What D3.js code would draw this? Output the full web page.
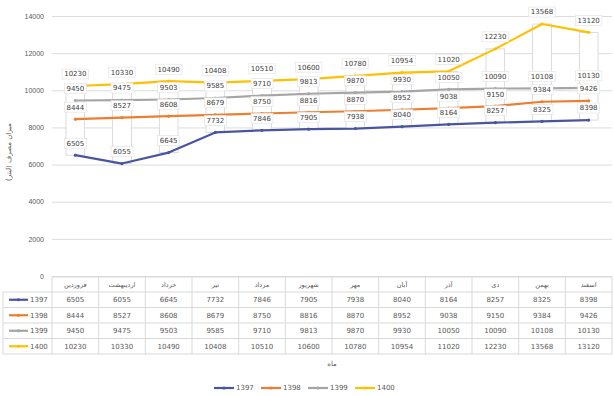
<!DOCTYPE html>
<html>
<head>
<meta charset="utf-8">
<script src="https://cdn.jsdelivr.net/npm/d3@7"></script>
<style>
  html, body { margin: 0; padding: 0; background: #fff; }
  svg { display: block; font-family: "DejaVu Sans", sans-serif; }
</style>
</head>
<body>
<svg id="chart" width="614" height="396"></svg>
<script>
// Monthly consumption, four years, Persian calendar months
const months = ["فروردین", "اردیبهشت", "خرداد", "تیر", "مرداد", "شهریور", "مهر", "آبان", "آذر", "دی", "بهمن", "اسفند"];
const seriesNames = ["1397", "1398", "1399", "1400"];
const values1397 = [6505, 6055, 6645, 7732, 7846, 7905, 7938, 8040, 8164, 8257, 8325, 8398];
const values1398 = [8444, 8527, 8608, 8679, 8750, 8816, 8870, 8952, 9038, 9150, 9384, 9426];
const values1399 = [9450, 9475, 9503, 9585, 9710, 9813, 9870, 9930, 10050, 10090, 10108, 10130];
const values1400 = [10230, 10330, 10490, 10408, 10510, 10600, 10780, 10954, 11020, 12230, 13568, 13120];
const yTicks = [0, 2000, 4000, 6000, 8000, 10000, 12000, 14000];
const colors = ["#4a55a2", "#ed7d31", "#a5a5a5", "#ffc000"];
const yTitle = "میزان مصرف (لیتر)";
const xTitle = "ماه";

const series = [values1397, values1398, values1399, values1400].map((v, i) => ({
  name: seriesNames[i], values: v, color: colors[i]
}));

const svg = d3.select("#chart");
const plotLeft = 52, plotRight = 612, plotTop = 16, plotBottom = 276;
const txt = "#595959";

const x = d3.scaleBand().domain(months).range([plotLeft, plotRight]).padding(0);
const y = d3.scaleLinear().domain([0, 14000]).range([plotBottom, plotTop]);
const cx = m => x(m) + x.bandwidth() / 2;

// Horizontal gridlines and value axis
const yAxis = d3.axisLeft(y).tickValues(yTicks).tickFormat(d3.format("d"))
  .tickSize(-(plotRight - plotLeft)).tickPadding(8);
const gy = svg.append("g").attr("transform", `translate(${plotLeft},0)`).call(yAxis);
gy.select(".domain").remove();
gy.selectAll(".tick line").attr("stroke", "#dcdcdc").attr("stroke-width", 1);
gy.selectAll(".tick text").attr("fill", txt).style("font-size", "7px");

// Up bars spanning the first and last year at each month
const barW = x.bandwidth() / 2.5;
svg.append("g").selectAll("rect").data(months).join("rect")
  .attr("x", m => cx(m) - barW / 2)
  .attr("width", barW)
  .attr("y", (m, i) => y(values1400[i]))
  .attr("height", (m, i) => y(values1397[i]) - y(values1400[i]))
  .attr("fill", "#fff")
  .attr("stroke", "#d2d2d2")
  .attr("stroke-width", 0.8);

// Lines with small markers
const line = d3.line().x((d, i) => cx(months[i])).y(d => y(d));
const gl = svg.append("g");
series.forEach(s => {
  gl.append("path").datum(s.values).attr("d", line)
    .attr("fill", "none").attr("stroke", s.color).attr("stroke-width", 2.2)
    .attr("stroke-linejoin", "round");
  gl.append("g").selectAll("circle").data(s.values).join("circle")
    .attr("cx", (d, i) => cx(months[i])).attr("cy", d => y(d)).attr("r", 1.6)
    .attr("fill", s.color);
});

// Data labels above each point
const gLab = svg.append("g").style("font-size", "7px");
series.forEach(s => {
  s.values.forEach((v, i) => {
    const g = gLab.append("g").attr("transform", `translate(${cx(months[i])},${y(v) - 12})`);
    const t = String(v);
    const w = t.length * 4.5 + 4;
    g.append("rect").attr("x", -w / 2).attr("y", -5).attr("width", w).attr("height", 10)
      .attr("fill", "#fff").attr("stroke", "#e0e0e0").attr("stroke-width", 0.6);
    g.append("text").text(t).attr("text-anchor", "middle").attr("dy", "0.35em")
      .attr("fill", "#404040");
  });
});

// Data table below the plot
const tTop = 277, headH = 15, rowH = 15.5, tLeft = 3;
const rowsTop = tTop + headH;
const tBottom = rowsTop + rowH * series.length;
const gt = svg.append("g");
const grid = "#d9d9d9";

gt.append("line").attr("x1", plotLeft).attr("x2", plotRight).attr("y1", tTop).attr("y2", tTop).attr("stroke", grid);
for (let r = 0; r <= series.length; r++) {
  const yy = rowsTop + r * rowH;
  gt.append("line").attr("x1", tLeft).attr("x2", plotRight).attr("y1", yy).attr("y2", yy).attr("stroke", grid);
}
gt.append("line").attr("x1", tLeft).attr("x2", tLeft).attr("y1", rowsTop).attr("y2", tBottom).attr("stroke", grid);
months.forEach(m => {
  gt.append("line").attr("x1", x(m)).attr("x2", x(m)).attr("y1", tTop).attr("y2", tBottom).attr("stroke", grid);
});
gt.append("line").attr("x1", plotRight).attr("x2", plotRight).attr("y1", tTop).attr("y2", tBottom).attr("stroke", grid);

gt.append("g").selectAll("text").data(months).join("text")
  .attr("x", m => cx(m)).attr("y", tTop + headH / 2).attr("dy", "0.35em")
  .attr("text-anchor", "middle").attr("fill", txt).style("font-size", "6.5px")
  .text(m => m);

series.forEach((s, r) => {
  const yy = rowsTop + r * rowH + rowH / 2;
  gt.append("line").attr("x1", 9).attr("x2", 28).attr("y1", yy).attr("y2", yy)
    .attr("stroke", s.color).attr("stroke-width", 2.2);
  gt.append("circle").attr("cx", 18.5).attr("cy", yy).attr("r", 1.6).attr("fill", s.color);
  gt.append("text").attr("x", 30).attr("y", yy).attr("dy", "0.35em")
    .attr("fill", txt).style("font-size", "7px").text(s.name);
  gt.append("g").selectAll("text").data(s.values).join("text")
    .attr("x", (d, i) => cx(months[i])).attr("y", yy).attr("dy", "0.35em")
    .attr("text-anchor", "middle").attr("fill", txt).style("font-size", "7px")
    .text(d => d);
});

// Axis titles
svg.append("text").attr("transform", "translate(11,152) rotate(-90)")
  .attr("text-anchor", "middle").attr("fill", txt).style("font-size", "7px").text(yTitle);
svg.append("text").attr("x", (plotLeft + plotRight) / 2).attr("y", 366).attr("text-anchor", "middle")
  .attr("fill", txt).style("font-size", "7px").text(xTitle);

// Legend
const lg = svg.append("g").attr("transform", "translate(214,388)");
series.forEach((s, i) => {
  const g = lg.append("g").attr("transform", `translate(${i * 47},0)`);
  g.append("line").attr("x1", 0).attr("x2", 20).attr("y1", 0).attr("y2", 0)
    .attr("stroke", s.color).attr("stroke-width", 2.2);
  g.append("circle").attr("cx", 10).attr("cy", 0).attr("r", 1.6).attr("fill", s.color);
  g.append("text").attr("x", 22).attr("y", 0).attr("dy", "0.35em")
    .attr("fill", txt).style("font-size", "7px").text(s.name);
});
</script>
</body>
</html>
